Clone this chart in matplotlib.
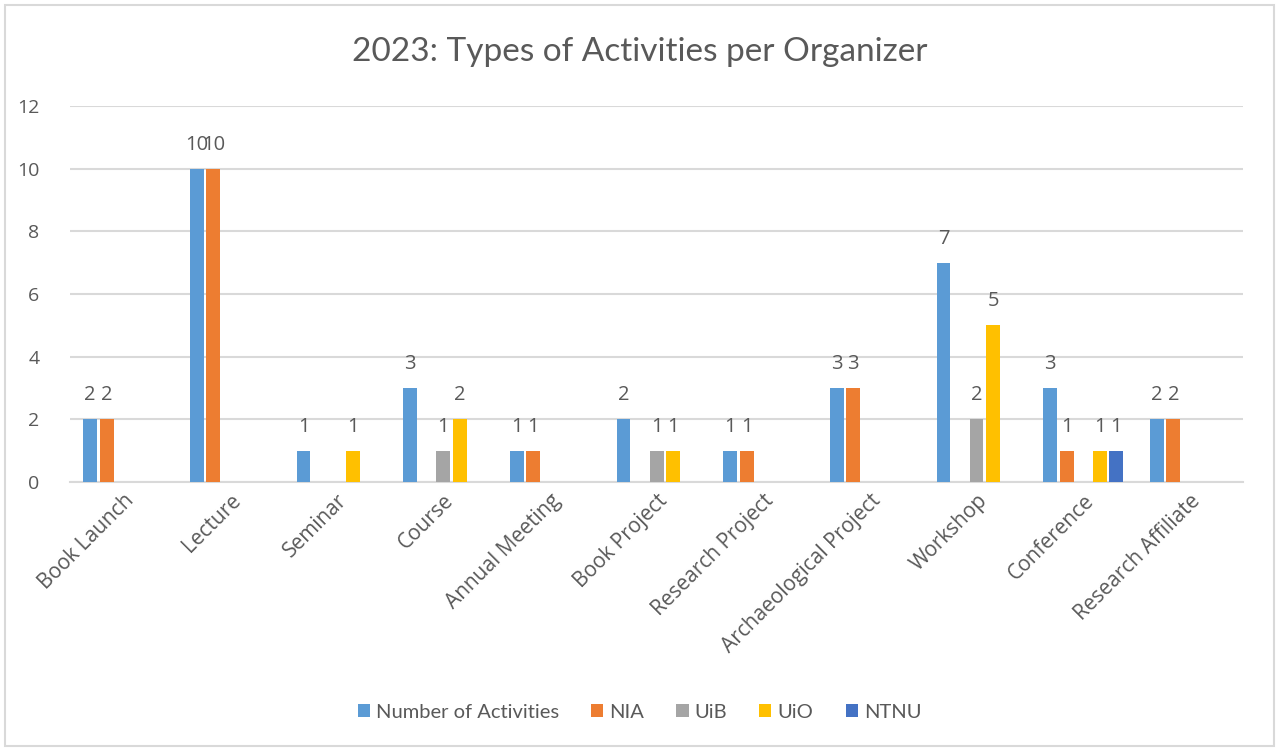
import numpy as np
import matplotlib
matplotlib.use("Agg")
import matplotlib.pyplot as plt
from matplotlib.patches import Rectangle

# Data
categories = ["Book Launch", "Lecture", "Seminar", "Course", "Annual Meeting",
              "Book Project", "Research Project", "Archaeological Project",
              "Workshop", "Conference", "Research Affiliate"]
series_names = ["Number of Activities", "NIA", "UiB", "UiO", "NTNU"]
activities = [2, 10, 1, 3, 1, 2, 1, 3, 7, 3, 2]
nia = [2, 10, 0, 0, 1, 0, 1, 3, 0, 1, 2]
uib = [0, 0, 0, 1, 0, 1, 0, 0, 2, 0, 0]
uio = [0, 0, 1, 2, 0, 1, 0, 0, 5, 1, 0]
ntnu = [0, 0, 0, 0, 0, 0, 0, 0, 0, 1, 0]
colors = ["#5B9BD5", "#ED7D31", "#A5A5A5", "#FFC000", "#4472C4"]

text_col = "#595959"
grid_col = "#D9D9D9"

fig = plt.figure(figsize=(12.79, 7.48), dpi=100)
ax = fig.add_axes([0.0547, 0.3556, 0.9173, 0.5027])

x = np.arange(len(categories))
slot = 0.155
bw = 0.13
all_series = [activities, nia, uib, uio, ntnu]
for i, (vals, name, c) in enumerate(zip(all_series, series_names, colors)):
    pos = x + (i - 2) * slot
    ax.bar(pos, vals, width=bw, color=c, label=name, zorder=3)
    for p, v in zip(pos, vals):
        if v > 0:
            ax.annotate(str(v), (p, v), xytext=(0, 10), textcoords="offset points",
                        ha="center", va="bottom", fontsize=14.5, color=text_col,
                        family="Open Sans")

ax.set_xlim(-0.5, len(categories) - 0.5)
ax.set_ylim(0, 12)
ax.set_yticks(range(0, 13, 2))
ax.yaxis.grid(True, color=grid_col, linewidth=1.5, zorder=0)
ax.set_axisbelow(True)
for s in ["top", "right", "left"]:
    ax.spines[s].set_visible(False)
ax.spines["bottom"].set_color(grid_col)
ax.spines["bottom"].set_linewidth(1.5)
ax.tick_params(axis="both", length=0, colors=text_col, labelsize=14)
ax.tick_params(axis="x", labelsize=15, pad=6)
ax.tick_params(axis="y", pad=22)
ax.set_xticks(x)
ax.set_xticklabels(categories, rotation=45, ha="right", rotation_mode="anchor",
                   family="Open Sans")
for lab in ax.get_yticklabels():
    lab.set_family("Open Sans")

fig.text(0.5, 0.93, "2023: Types of Activities per Organizer", ha="center", va="center",
         fontsize=24, color=text_col, family="Lato")

leg = fig.legend(loc="center", bbox_to_anchor=(0.5, 0.048), ncol=5, frameon=False,
                 handlelength=0.6, handleheight=0.6, handletextpad=0.3,
                 columnspacing=1.6, prop={"family": "Lato", "size": 14.5})
for t in leg.get_texts():
    t.set_color(text_col)

fig.patches.append(Rectangle((0.004, 0.003), 0.992, 0.99, transform=fig.transFigure,
                             fill=False, edgecolor="#D9D9D9", linewidth=1.5))

plt.savefig("out.png", dpi=100)
